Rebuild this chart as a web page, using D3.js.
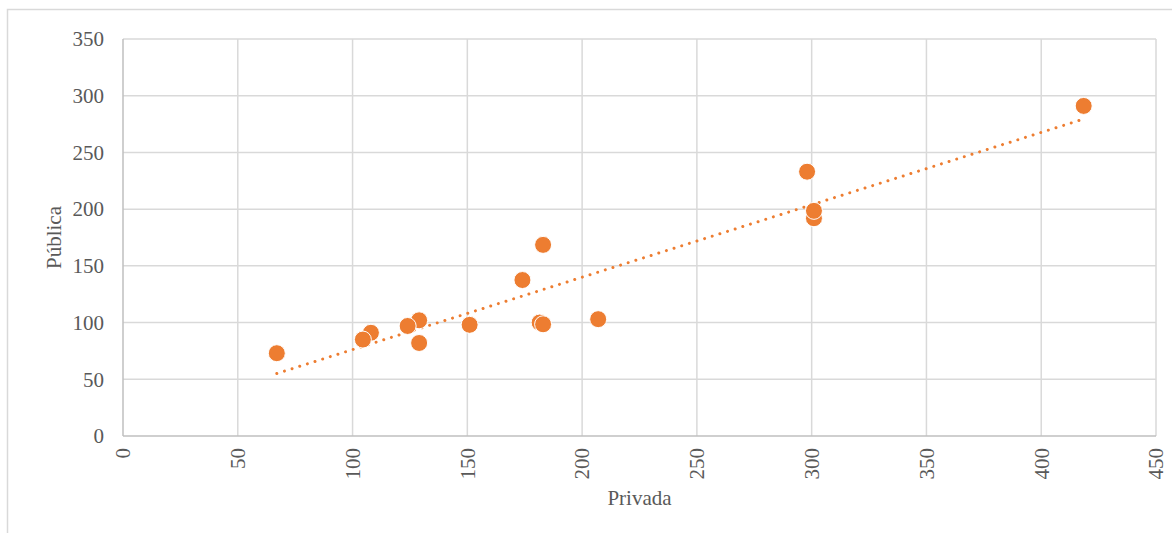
<!DOCTYPE html>
<html>
<head>
<meta charset="utf-8">
<script src="https://cdn.jsdelivr.net/npm/d3@7"></script>
<style>
  html, body { margin: 0; padding: 0; background: #fff; }
  svg { display: block; }
  text { font-family: "Liberation Serif", "Times New Roman", serif; fill: #595959; }
</style>
</head>
<body>
<svg id="chart" width="1172" height="533"></svg>
<script>
// Private (x) vs public (y) values, in drawing order
const privada = [67, 104.5, 108, 129, 124, 129, 151, 174, 183, 181.5, 183, 207, 298, 301, 301, 418.5];
const publica = [73, 85, 91, 102, 97, 82, 98, 137.5, 168.5, 100, 98.5, 103, 233, 192, 198.5, 291];
// point order tweak: the (108,91) point sits beneath the (104.5,85) one
const order = [0, 2, 1, 3, 4, 5, 6, 7, 8, 9, 10, 11, 12, 13, 14, 15];

const xTicks = [0, 50, 100, 150, 200, 250, 300, 350, 400, 450];
const yTicks = [0, 50, 100, 150, 200, 250, 300, 350];

const svg = d3.select("#chart");
const W = 1172, H = 533;
const plot = { left: 123, right: 1156, top: 39, bottom: 436 };
const fontSize = 21;

const x = d3.scaleLinear().domain([0, 450]).range([plot.left, plot.right]);
const y = d3.scaleLinear().domain([0, 350]).range([plot.bottom, plot.top]);

// chart frame (top and left edges visible)
svg.append("path")
  .attr("d", `M7.5,${H} V9.5 H${W}`)
  .attr("fill", "none")
  .attr("stroke", "#d9d9d9")
  .attr("stroke-width", 1.5);

// gridlines
svg.append("g").selectAll("line").data(xTicks.slice(1)).join("line")
  .attr("x1", d => x(d)).attr("x2", d => x(d))
  .attr("y1", plot.top).attr("y2", plot.bottom)
  .attr("stroke", "#d9d9d9").attr("stroke-width", 1.5);
svg.append("g").selectAll("line").data(yTicks.slice(1)).join("line")
  .attr("x1", plot.left).attr("x2", plot.right)
  .attr("y1", d => y(d)).attr("y2", d => y(d))
  .attr("stroke", "#d9d9d9").attr("stroke-width", 1.5);

// axis lines
svg.append("line")
  .attr("x1", plot.left).attr("x2", plot.right)
  .attr("y1", y(0)).attr("y2", y(0))
  .attr("stroke", "#bfbfbf").attr("stroke-width", 1.5);
svg.append("line")
  .attr("x1", x(0)).attr("x2", x(0))
  .attr("y1", plot.top).attr("y2", plot.bottom)
  .attr("stroke", "#bfbfbf").attr("stroke-width", 1.5);

// y tick labels
svg.append("g").selectAll("text").data(yTicks).join("text")
  .attr("x", plot.left - 19)
  .attr("y", d => y(d))
  .attr("dy", "0.35em")
  .attr("text-anchor", "end")
  .attr("font-size", fontSize)
  .text(d => d);

// x tick labels, rotated
svg.append("g").selectAll("text").data(xTicks).join("text")
  .attr("transform", d => `translate(${x(d)},${plot.bottom + 12}) rotate(-90)`)
  .attr("dy", "0.35em")
  .attr("text-anchor", "end")
  .attr("font-size", fontSize)
  .text(d => d);

// axis titles
svg.append("text")
  .attr("x", (plot.left + plot.right) / 2)
  .attr("y", 505)
  .attr("text-anchor", "middle")
  .attr("font-size", fontSize)
  .text("Privada");
svg.append("text")
  .attr("transform", `translate(61,${(plot.top + plot.bottom) / 2}) rotate(-90)`)
  .attr("text-anchor", "middle")
  .attr("font-size", fontSize)
  .text("Pública");

// least-squares trendline over the data range
const n = privada.length;
const mx = d3.mean(privada), my = d3.mean(publica);
let sxy = 0, sxx = 0;
for (let i = 0; i < n; i++) {
  sxy += (privada[i] - mx) * (publica[i] - my);
  sxx += (privada[i] - mx) ** 2;
}
const slope = sxy / sxx, intercept = my - slope * mx;
const [xmin, xmax] = d3.extent(privada);
svg.append("line")
  .attr("x1", x(xmin)).attr("y1", y(intercept + slope * xmin))
  .attr("x2", x(xmax)).attr("y2", y(intercept + slope * xmax))
  .attr("stroke", "#ED7D31")
  .attr("stroke-width", 3)
  .attr("stroke-linecap", "round")
  .attr("stroke-dasharray", "0.01 8");

// points
svg.append("g").selectAll("circle").data(order).join("circle")
  .attr("cx", i => x(privada[i]))
  .attr("cy", i => y(publica[i]))
  .attr("r", 8.5)
  .attr("fill", "#ED7D31")
  .attr("stroke", "#fff")
  .attr("stroke-width", 1);
</script>
</body>
</html>
